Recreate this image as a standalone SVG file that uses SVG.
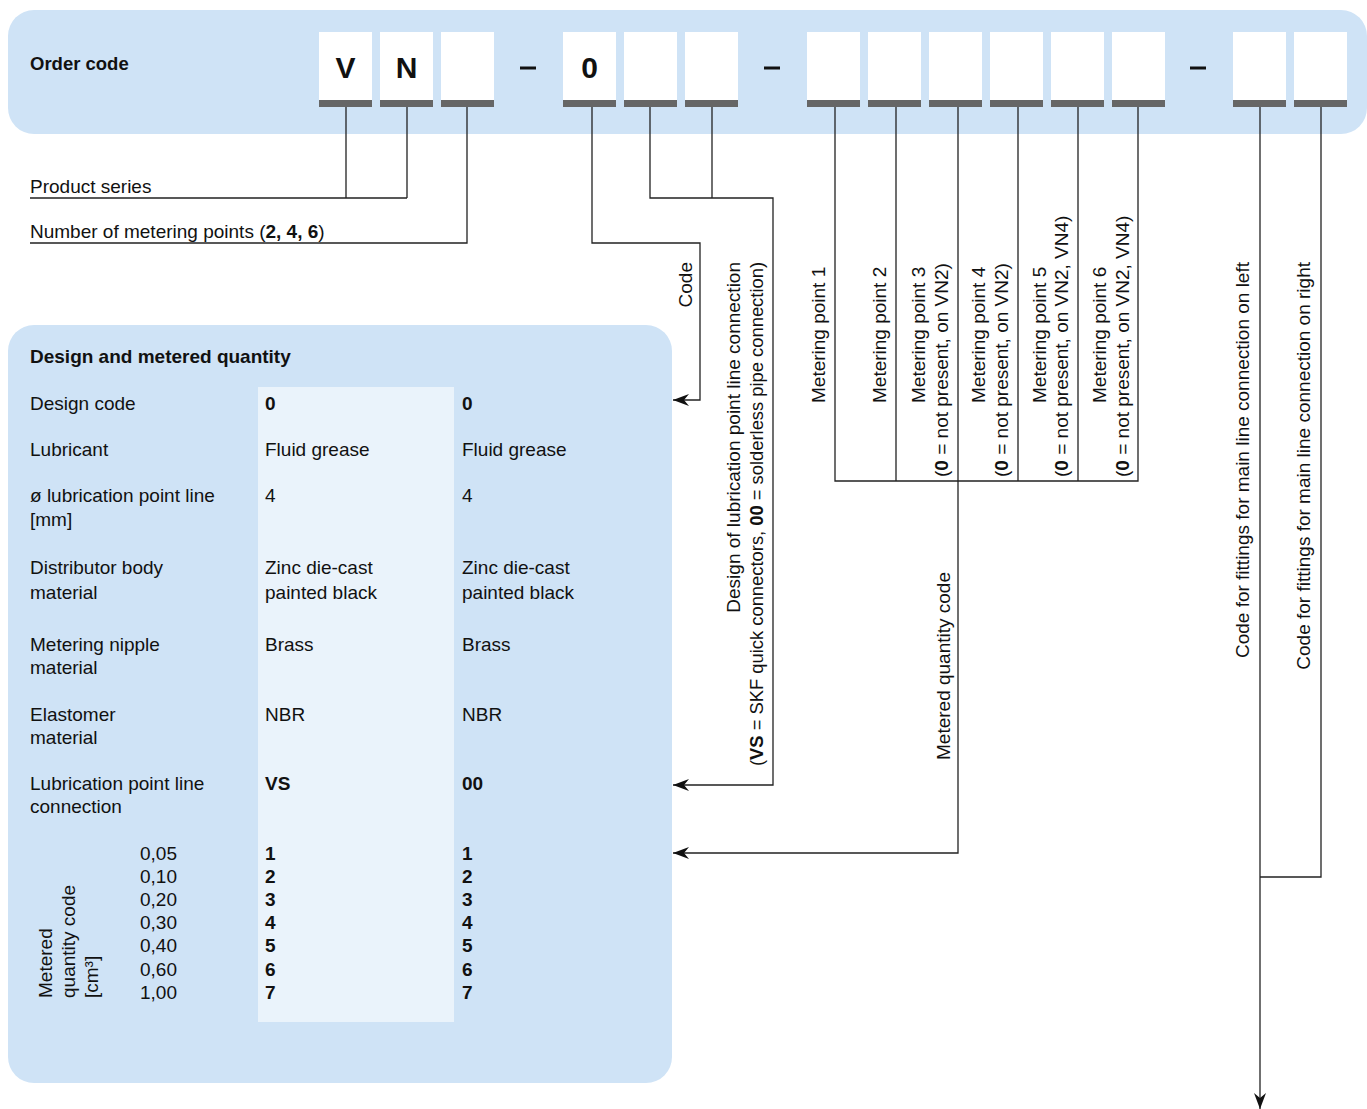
<svg xmlns="http://www.w3.org/2000/svg" width="1367" height="1109" viewBox="0 0 1367 1109">
<defs>
<style>
text{font-family:"Liberation Sans",Arial,sans-serif;font-size:19px;fill:#111}
.b{font-weight:bold}
.t{font-weight:bold;font-size:18.5px}
.big{font-weight:bold;font-size:30px;text-anchor:middle}
.box{fill:#fff}
.bar{fill:#666}
.dash{stroke:#111;stroke-width:3}
.ln{fill:none;stroke:#222;stroke-width:1.3}
.e{text-anchor:end}
</style>
<marker id="arr" viewBox="0 0 16 12" refX="16" refY="6" markerWidth="16" markerHeight="12" orient="auto" markerUnits="userSpaceOnUse"><path d="M0,0 L16,6 L0,12 L5,6 z" fill="#111"/></marker>
</defs>
<rect width="1367" height="1109" fill="#fff"/>

<g id="order-code">
<rect x="8" y="10" width="1359" height="124" rx="26" fill="#cfe3f6"/>
<text class="t" x="30" y="70">Order code</text>
<g id="boxes">
<rect class="box" x="319" y="32" width="53" height="68"/><rect class="bar" x="319" y="100" width="53" height="7"/>
<rect class="box" x="380" y="32" width="53" height="68"/><rect class="bar" x="380" y="100" width="53" height="7"/>
<rect class="box" x="441" y="32" width="53" height="68"/><rect class="bar" x="441" y="100" width="53" height="7"/>
<rect class="box" x="563" y="32" width="53" height="68"/><rect class="bar" x="563" y="100" width="53" height="7"/>
<rect class="box" x="624" y="32" width="53" height="68"/><rect class="bar" x="624" y="100" width="53" height="7"/>
<rect class="box" x="685" y="32" width="53" height="68"/><rect class="bar" x="685" y="100" width="53" height="7"/>
<rect class="box" x="807" y="32" width="53" height="68"/><rect class="bar" x="807" y="100" width="53" height="7"/>
<rect class="box" x="868" y="32" width="53" height="68"/><rect class="bar" x="868" y="100" width="53" height="7"/>
<rect class="box" x="929" y="32" width="53" height="68"/><rect class="bar" x="929" y="100" width="53" height="7"/>
<rect class="box" x="990" y="32" width="53" height="68"/><rect class="bar" x="990" y="100" width="53" height="7"/>
<rect class="box" x="1051" y="32" width="53" height="68"/><rect class="bar" x="1051" y="100" width="53" height="7"/>
<rect class="box" x="1112" y="32" width="53" height="68"/><rect class="bar" x="1112" y="100" width="53" height="7"/>
<rect class="box" x="1233" y="32" width="53" height="68"/><rect class="bar" x="1233" y="100" width="53" height="7"/>
<rect class="box" x="1294" y="32" width="53" height="68"/><rect class="bar" x="1294" y="100" width="53" height="7"/>
</g>
<text class="big" x="345.5" y="78">V</text>
<text class="big" x="406.5" y="78">N</text>
<text class="big" x="589.5" y="78">0</text>
<line class="dash" x1="520" y1="68" x2="536" y2="68"/>
<line class="dash" x1="764" y1="68" x2="780" y2="68"/>
<line class="dash" x1="1190" y1="68" x2="1206" y2="68"/>
</g>

<g id="design-panel">
<rect x="8" y="325" width="664" height="758" rx="26" fill="#cfe3f6"/>
<rect x="258" y="387" width="196" height="635" fill="#eaf3fb"/>
<text class="b" x="30" y="363">Design and metered quantity</text>
<text x="30" y="410">Design code</text><text class="b" x="265" y="410">0</text><text class="b" x="462" y="410">0</text>
<text x="30" y="456">Lubricant</text><text x="265" y="456">Fluid grease</text><text x="462" y="456">Fluid grease</text>
<text x="30" y="502">ø lubrication point line</text><text x="30" y="526">[mm]</text><text x="265" y="502">4</text><text x="462" y="502">4</text>
<text x="30" y="574">Distributor body</text><text x="30" y="599">material</text>
<text x="265" y="574">Zinc die-cast</text><text x="265" y="599">painted black</text>
<text x="462" y="574">Zinc die-cast</text><text x="462" y="599">painted black</text>
<text x="30" y="651">Metering nipple</text><text x="30" y="674">material</text><text x="265" y="651">Brass</text><text x="462" y="651">Brass</text>
<text x="30" y="721">Elastomer</text><text x="30" y="744">material</text><text x="265" y="721">NBR</text><text x="462" y="721">NBR</text>
<text x="30" y="790">Lubrication point line</text><text x="30" y="813">connection</text><text class="b" x="265" y="790">VS</text><text class="b" x="462" y="790">00</text>
<text x="140" y="860">0,05</text><text x="140" y="883">0,10</text><text x="140" y="906">0,20</text><text x="140" y="929">0,30</text><text x="140" y="952">0,40</text><text x="140" y="976">0,60</text><text x="140" y="999">1,00</text>
<text class="b" x="265" y="860">1</text><text class="b" x="265" y="883">2</text><text class="b" x="265" y="906">3</text><text class="b" x="265" y="929">4</text><text class="b" x="265" y="952">5</text><text class="b" x="265" y="976">6</text><text class="b" x="265" y="999">7</text>
<text class="b" x="462" y="860">1</text><text class="b" x="462" y="883">2</text><text class="b" x="462" y="906">3</text><text class="b" x="462" y="929">4</text><text class="b" x="462" y="952">5</text><text class="b" x="462" y="976">6</text><text class="b" x="462" y="999">7</text>
<text transform="translate(52,998) rotate(-90)">Metered</text>
<text transform="translate(75,998) rotate(-90)">quantity code</text>
<text transform="translate(98,998) rotate(-90)">[cm³]</text>
</g>

<g id="labels">
<text x="30" y="193">Product series</text>
<text x="30" y="238">Number of metering points (<tspan class="b">2, 4, 6</tspan>)</text>
<text class="e" transform="translate(692,262) rotate(-90)">Code</text>
<text class="e" transform="translate(740,262) rotate(-90)">Design of lubrication point line connection</text>
<text class="e" transform="translate(763,262) rotate(-90)" textLength="504" lengthAdjust="spacingAndGlyphs">(<tspan class="b">VS</tspan> = SKF quick connectors, <tspan class="b">00</tspan> = solderless pipe connection)</text>
<text transform="translate(825,403) rotate(-90)">Metering point 1</text>
<text transform="translate(886,403) rotate(-90)">Metering point 2</text>
<text transform="translate(925,403) rotate(-90)">Metering point 3</text>
<text transform="translate(948,477) rotate(-90)">(<tspan class="b">0</tspan> = not present, on VN2)</text>
<text transform="translate(985,403) rotate(-90)">Metering point 4</text>
<text transform="translate(1008,477) rotate(-90)">(<tspan class="b">0</tspan> = not present, on VN2)</text>
<text transform="translate(1046,403) rotate(-90)">Metering point 5</text>
<text transform="translate(1068,477) rotate(-90)">(<tspan class="b">0</tspan> = not present, on VN2, VN4)</text>
<text transform="translate(1106,403) rotate(-90)">Metering point 6</text>
<text transform="translate(1129,477) rotate(-90)">(<tspan class="b">0</tspan> = not present, on VN2, VN4)</text>
<text transform="translate(950,760) rotate(-90)">Metered quantity code</text>
<text class="e" transform="translate(1249,262) rotate(-90)">Code for fittings for main line connection on left</text>
<text class="e" transform="translate(1310,262) rotate(-90)">Code for fittings for main line connection on right</text>
</g>

<g id="connectors">
<path class="ln" d="M30,198 H407 M346,107 V198 M407,107 V198"/>
<path class="ln" d="M30,243 H467 V107"/>
<path class="ln" d="M592,107 V243 H700 V400 H673" marker-end="url(#arr)"/>
<path class="ln" d="M650,107 V198 H773 V785 H673" marker-end="url(#arr)"/>
<path class="ln" d="M712,107 V198"/>
<path class="ln" d="M835,107 V481 H1138 V107 M896,107 V481 M958,107 V481 M1018,107 V481 M1078,107 V481"/>
<path class="ln" d="M958,481 V853 H673" marker-end="url(#arr)"/>
<path class="ln" d="M1321,107 V877 H1260"/>
<path class="ln" d="M1260,107 V1109" marker-end="url(#arr)"/>
</g>
</svg>
